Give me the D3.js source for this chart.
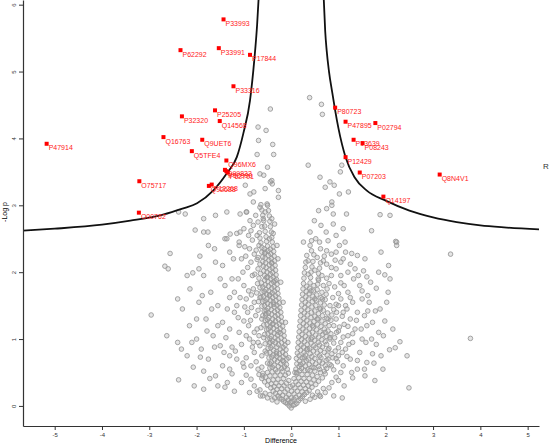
<!DOCTYPE html>
<html>
<head>
<meta charset="utf-8">
<script src="https://cdn.jsdelivr.net/npm/d3@7"></script>
<style>
  body { margin: 0; background: #fff; }
  svg { font-family: "Liberation Sans", Arial, sans-serif; }
</style>
</head>
<body>
<div id="chart"></div>
<script>
// 기본 설정
const width = 550;
const height = 445;

// 축 눈금
const xTicks = [-5, -4, -3, -2, -1, 0, 1, 2, 3, 4, 5];
const yTicks = [0, 1, 2, 3, 4, 5, 6];

// 유의 단백질 (빨간 점)
const sigLabels = ['P33993', 'P62292', 'P33991', 'P17844', 'P33316', 'P25205', 'P32320', 'Q14568',
  'Q16763', 'P47914', 'Q9UET6', 'Q5TFE4', 'Q96MX6', 'Q99832', 'P50990', 'P62701', 'O75717',
  'Q92688', 'P12268', 'O00762',
  'P80723', 'P47895', 'P02794', 'P13639', 'P08243', 'P12429', 'P07203', 'Q8N4V1', 'Q14197'];
const sigX = [-1.43, -2.34, -1.53, -0.87, -1.22, -1.61, -2.31, -1.51,
  -2.70, -5.17, -1.88, -2.10, -1.37, -1.40, -1.37, -1.34, -3.21,
  -1.74, -1.68, -3.22,
  0.93, 1.15, 1.78, 1.32, 1.51, 1.15, 1.45, 3.14, 1.95];
const sigY = [5.78, 5.32, 5.35, 5.25, 4.78, 4.42, 4.33, 4.26,
  4.02, 3.92, 3.98, 3.81, 3.67, 3.53, 3.51, 3.49, 3.36,
  3.29, 3.31, 2.89,
  4.46, 4.25, 4.23, 3.98, 3.93, 3.72, 3.49, 3.46, 3.13];

// 임계 곡선
const thresholdLeft = [[-5.67, 2.62], [-5.0, 2.65], [-4.0, 2.71], [-3.4, 2.77], [-2.71, 2.86],
  [-2.3, 2.95], [-1.99, 3.03], [-1.65, 3.22], [-1.36, 3.48], [-1.15, 3.72], [-1.01, 4.08],
  [-0.87, 4.57], [-0.78, 5.17], [-0.72, 5.7], [-0.69, 6.07]];
const thresholdRight = [[0.69, 6.07], [0.72, 5.6], [0.75, 5.32], [0.8, 5.0], [0.87, 4.68],
  [0.93, 4.42], [1.0, 4.15], [1.15, 3.72], [1.34, 3.42], [1.6, 3.22], [2.0, 3.07], [2.5, 2.92],
  [3.0, 2.82], [3.5, 2.75], [4.0, 2.70], [4.5, 2.67], [5.24, 2.64]];

// 회색 점들 (영역별)
const coreBottom = [[0,-0.03],[-0.04,0.0],[0.04,0.01],[-0.08,0.03],[0.08,0.02],[-0.12,0.05],[0.12,0.04],[-0.02,0.05],[0.02,0.07],[-0.16,0.07],[0.16,0.08],[-0.06,0.09],[0.06,0.1],[-0.2,0.1],[0.2,0.11],
  [-0.24,0.12],[0.24,0.14],[-0.1,0.13],[0.1,0.13],[0,0.12],[-0.28,0.15],[0.28,0.17],[-0.18,0.16],[0.17,0.16],[-0.05,0.17],[0.06,0.18],[-0.33,0.19],[0.33,0.2],[-0.24,0.2],[0.23,0.21],[-0.13,0.21],[0.13,0.22],[0.01,0.22],
  [-0.38,0.22],[0.38,0.23],[-0.3,0.25],[0.3,0.26],[-0.2,0.26],[0.19,0.27],[-0.08,0.25],[0.08,0.27],[-0.43,0.27],[0.44,0.28],[-0.36,0.29],[0.36,0.3],[-0.26,0.3],[0.26,0.31],[-0.15,0.3],[0.15,0.32],[-0.02,0.29],[0.03,0.31],[-0.5,0.31],[0.52,0.32],
  [-0.42,0.33],[0.42,0.34],[-0.32,0.34],[0.32,0.36],[-0.21,0.35],[0.21,0.37],[-0.1,0.34],[0.1,0.36],[-0.56,0.36],[0.58,0.37],[-0.48,0.38],[0.48,0.39],[-0.38,0.39],[0.38,0.41],[-0.28,0.4],[0.27,0.41],[-0.16,0.41],[0.16,0.42],[-0.05,0.38],[0.06,0.41],[-0.62,0.41],[0.66,0.42],
  [-0.54,0.43],[0.55,0.44],[-0.45,0.45],[0.45,0.46],[-0.34,0.45],[0.34,0.47],[-0.23,0.46],[0.23,0.47],[-0.12,0.46],[0.12,0.48],[-0.68,0.47],[0.72,0.48],[-0.6,0.49],[0.62,0.5],[-0.5,0.5],[0.5,0.52],[-0.4,0.51],[0.4,0.53],[-0.29,0.51],[0.29,0.53],[-0.18,0.52],[0.18,0.53],[-0.06,0.49],[0.08,0.5],
  [-0.3,0.06],[0.3,0.07],[-0.4,0.09],[0.4,0.1],[-0.5,0.12],[0.5,0.13],[-0.6,0.15],[0.6,0.16],[-0.35,0.12],[0.45,0.16],[-0.55,0.19],[0.56,0.21],[-0.66,0.24],[0.68,0.26],[-0.45,0.17],
  [-0.78,0.3],[0.8,0.27],[-0.85,0.4],[0.86,0.35],[-0.95,0.46],[0.95,0.43],[-0.72,0.22],[0.72,0.2],[1.0,0.38],[1.08,0.12],[1.12,0.3],[-1.05,0.35],[0.9,0.15],[-0.88,0.2],[1.05,0.5],[-1.25,0.48],[1.3,0.42],[-1.4,0.28],[-1.2,0.22],[-1.72,0.41],[-0.65,0.15],[0.62,0.14]];

const leftArm = [[-0.08,0.55],[-0.2,0.56],[-0.33,0.54],[-0.45,0.57],[-0.1,0.62],[-0.22,0.63],[-0.36,0.61],[-0.5,0.64],
  [-0.09,0.7],[-0.24,0.71],[-0.35,0.69],[-0.47,0.72],[-0.12,0.77],[-0.25,0.78],[-0.38,0.76],[-0.52,0.79],
  [-0.11,0.84],[-0.23,0.85],[-0.37,0.83],[-0.49,0.86],[-0.13,0.91],[-0.27,0.92],[-0.4,0.9],[-0.55,0.93],
  [-0.14,0.98],[-0.28,0.99],[-0.39,0.97],[-0.5,1.0],[-0.15,1.05],[-0.29,1.06],[-0.42,1.04],[-0.56,1.07],
  [-0.16,1.12],[-0.3,1.13],[-0.43,1.11],[-0.52,1.14],[-0.18,1.19],[-0.31,1.2],[-0.44,1.18],[-0.58,1.21],
  [-0.2,1.26],[-0.33,1.27],[-0.45,1.25],[-0.55,1.28],[-0.21,1.33],[-0.34,1.34],[-0.47,1.32],[-0.6,1.35],
  [-0.22,1.4],[-0.35,1.41],[-0.48,1.39],[-0.57,1.42],[-0.24,1.47],[-0.36,1.48],[-0.49,1.46],[-0.62,1.49],
  [-0.25,1.54],[-0.38,1.55],[-0.5,1.53],[-0.6,1.56],[-0.26,1.61],[-0.39,1.62],[-0.51,1.6],[-0.64,1.63],
  [-0.28,1.68],[-0.4,1.69],[-0.52,1.67],[-0.62,1.7],[-0.29,1.75],[-0.41,1.76],[-0.53,1.74],[-0.66,1.77],
  [-0.3,1.82],[-0.42,1.83],[-0.55,1.81],[-0.63,1.84],[-0.31,1.89],[-0.43,1.9],[-0.56,1.88],[-0.68,1.91],
  [-0.32,1.96],[-0.44,1.97],[-0.56,1.95],[-0.65,1.98],[-0.33,2.03],[-0.45,2.04],[-0.58,2.02],[-0.7,2.05],
  [-0.34,2.1],[-0.46,2.11],[-0.59,2.09],[-0.35,2.17],[-0.47,2.18],[-0.6,2.16],[-0.72,2.19],
  [-0.36,2.24],[-0.48,2.25],[-0.6,2.23],[-0.37,2.31],[-0.49,2.32],[-0.62,2.3],[-0.74,2.33],
  [-0.38,2.38],[-0.5,2.39],[-0.62,2.37],[-0.4,2.45],[-0.52,2.46],[-0.64,2.44],
  [-0.41,2.52],[-0.53,2.53],[-0.66,2.51],[-0.42,2.6],[-0.55,2.61],[-0.67,2.59],
  [-0.44,2.68],[-0.56,2.69],[-0.45,2.76],[-0.58,2.77],[-0.7,2.75],[-0.46,2.84],[-0.6,2.85],
  [-0.48,2.92],[-0.62,2.93],[-0.5,3.0],[-0.64,3.01]];

const leftArm2 = [[-0.14,0.585],[-0.27,0.59],[-0.4,0.58],[-0.16,0.66],[-0.29,0.665],[-0.42,0.655],
  [-0.17,0.735],[-0.3,0.74],[-0.41,0.73],[-0.18,0.805],[-0.31,0.81],[-0.45,0.8],
  [-0.17,0.875],[-0.3,0.88],[-0.43,0.87],[-0.2,0.945],[-0.33,0.95],[-0.46,0.94],
  [-0.21,1.015],[-0.34,1.02],[-0.45,1.01],[-0.22,1.085],[-0.36,1.09],[-0.49,1.08],
  [-0.23,1.155],[-0.37,1.16],[-0.48,1.15],[-0.25,1.225],[-0.38,1.23],[-0.51,1.22],
  [-0.27,1.295],[-0.39,1.3],[-0.5,1.29],[-0.28,1.365],[-0.41,1.37],[-0.54,1.36],
  [-0.29,1.435],[-0.42,1.44],[-0.53,1.43],[-0.3,1.505],[-0.43,1.51],[-0.56,1.5],
  [-0.32,1.575],[-0.44,1.58],[-0.55,1.57],[-0.33,1.645],[-0.46,1.65],[-0.58,1.64],
  [-0.35,1.715],[-0.47,1.72],[-0.57,1.71],[-0.36,1.785],[-0.48,1.79],[-0.6,1.78],
  [-0.37,1.855],[-0.49,1.86],[-0.38,1.925],[-0.5,1.93],[-0.39,1.995],[-0.51,2.0],
  [-0.4,2.065],[-0.53,2.07],[-0.41,2.135],[-0.54,2.14],[-0.42,2.205],[-0.55,2.21],
  [-0.43,2.275],[-0.56,2.28],[-0.44,2.345],[-0.57,2.35]];

const leftHalo = [[-0.7,0.55],[-0.85,0.6],[-1.0,0.58],[-0.62,0.75],[-0.78,0.8],[-0.95,0.72],[-1.15,0.7],
  [-0.7,0.95],[-0.88,1.0],[-1.05,0.92],[-1.25,0.88],[-0.72,1.15],[-0.9,1.2],[-1.1,1.1],[-1.3,1.15],
  [-0.75,1.35],[-0.92,1.4],[-1.12,1.32],[-0.78,1.55],[-0.95,1.6],[-1.15,1.5],[-1.35,1.45],
  [-0.8,1.75],[-1.0,1.8],[-1.2,1.7],[-0.82,1.95],[-1.02,2.0],[-1.25,1.9],[-0.85,2.15],[-1.05,2.2],
  [-0.88,2.35],[-1.1,2.4],[-0.9,2.55],[-0.8,2.7],[-1.0,2.65],[-0.75,2.85],[-0.95,2.9],
  [-0.68,1.05],[-0.66,1.62],[-0.7,2.22],[-0.6,0.45],[-0.82,0.88],[-0.86,1.28],[-0.98,1.48],[-0.84,1.66]];

const leftMid = [[-0.62,0.58],[-0.74,0.66],[-0.55,0.82],[-0.66,0.9],[-0.8,0.95],[-0.58,1.02],[-0.64,1.17],
  [-0.78,1.1],[-0.95,1.05],[-0.62,1.3],[-0.7,1.43],[-0.84,1.47],[-0.69,1.56],[-0.73,1.69],[-0.9,1.72],
  [-0.71,1.83],[-0.77,1.97],[-0.92,2.07],[-0.66,2.12],[-0.78,2.27],[-0.96,2.24],[-0.68,2.4],[-0.82,2.48],
  [-0.72,2.55],[-0.62,2.68],[-0.85,2.62],[-0.55,2.9],[-0.38,2.58],[-0.35,2.72],[-0.3,2.4],[-0.28,2.2],
  [-0.22,1.85],[-0.17,1.55],[-0.12,1.25],[-0.07,0.95],[-0.05,0.72],[-0.45,0.63],[-0.31,0.78],[-0.18,0.68],
  [-0.44,0.95],[-0.26,1.1],[-0.4,1.22],[-0.53,1.38],[-0.37,1.52],[-0.45,1.66],[-0.34,1.87],[-0.52,1.92],
  [-0.41,2.14],[-0.55,2.3],[-0.46,2.5],[-1.02,0.64],[-1.18,0.82],[-1.0,1.27],[-1.2,1.4],[-1.08,1.62],
  [-1.3,1.62],[-1.12,1.9],[-0.98,2.38],[-1.22,2.2],[-1.15,2.58],[-1.4,1.8],[-1.55,1.2],[-1.42,0.8],
  [-1.62,0.88],[-1.78,1.12],[-1.68,1.45],[-1.88,1.65],[-1.45,2.1],[-1.62,2.35],[-1.95,2.05],[-2.2,1.95],
  [-2.0,1.3],[-2.1,0.95],[-1.85,0.52],[-1.55,0.3],[-1.3,0.55]];

const leftOuter = [[-1.45,0.6],[-1.6,0.45],[-1.75,0.7],[-1.5,0.9],[-1.9,0.85],[-1.65,1.05],[-2.0,1.0],
  [-1.45,1.25],[-1.8,1.3],[-2.15,1.2],[-1.55,1.5],[-1.95,1.55],[-2.3,1.45],[-1.7,1.7],[-2.14,1.75],
  [-2.4,1.6],[-1.5,1.9],[-1.85,1.95],[-2.08,1.99],[-1.6,2.15],[-1.93,2.24],[-1.75,2.4],[-1.4,2.5],
  [-1.3,2.3],[-2.2,0.75],[-2.4,0.95],[-2.07,0.58],[-2.38,0.39],[-2.32,0.85],[-2.63,1.05],[-2.96,1.36],
  [-2.56,2.28],[-2.67,2.09],[-2.6,2.05],[-2.05,0.3],[-1.85,0.25],[-1.35,0.35],[-1.92,0.73],
  [-2.03,2.63],[-1.76,2.6],[-2.38,2.9],[-1.6,2.85],[-1.3,0.75],[-1.38,1.02]];

const upperPoints = [[-0.97,3.3],[-0.87,3.17],[-0.79,3.2],[-0.55,3.25],[-0.44,3.35],[-0.27,3.22],
  [-0.27,3.12],[-0.8,3.05],[-0.66,2.97],[-0.51,3.02],[-0.94,2.9],[-1.08,2.87],[-1.36,2.9],
  [-0.87,2.77],[-0.59,2.8],[-0.41,2.8],[-1.85,2.8],[-1.85,2.6],[-2.24,2.87],[-1.29,2.57],
  [-1.08,2.6],[-1.36,2.5],[-1.1,2.45],
  [0.39,4.61],[0.64,4.51],[0.66,4.36],[-0.44,4.44],[-0.7,4.17],[-0.53,4.12],[-0.39,3.91],
  [-0.37,3.76],[0.36,3.6],[-0.69,3.97],[-0.72,3.76],[-0.5,3.57],[-0.41,3.37],[-0.4,3.32],
  [-0.66,3.47],[-0.58,3.45],
  [0.61,3.42],[1.04,3.5],[1.07,3.6],[0.72,3.27],[0.82,3.35],[0.91,3.3],[1.02,3.17],[1.21,3.2],
  [0.86,3.05],[0.86,3.0],[0.58,2.92],[0.75,2.95],[0.89,2.87],[1.17,2.87],[1.88,2.86],[2.09,2.85],
  [1.7,2.62],[0.49,2.77],[0.63,2.7],[0.89,2.72],[1.1,2.65],[0.74,2.6],[0.26,2.45],[0.43,2.47],
  [0.6,2.45],[0.78,2.47],[1.14,2.45],[2.23,2.45],[2.23,2.4],[0.75,2.32],[0.43,2.32],[3.37,2.27]];

const rightArm = [[0.1,0.55],[0.22,0.56],[0.35,0.54],[0.48,0.57],[0.6,0.55],[0.75,0.56],[0.9,0.54],
  [0.12,0.63],[0.25,0.64],[0.38,0.62],[0.52,0.63],[0.66,0.64],[0.82,0.62],
  [0.11,0.71],[0.23,0.72],[0.36,0.7],[0.5,0.71],[0.63,0.72],[0.78,0.7],[0.95,0.71],
  [0.13,0.79],[0.27,0.8],[0.4,0.78],[0.55,0.79],[0.7,0.8],[0.86,0.78],
  [0.14,0.87],[0.26,0.88],[0.39,0.86],[0.52,0.87],[0.66,0.88],[0.8,0.86],[1.0,0.87],
  [0.15,0.95],[0.28,0.96],[0.42,0.94],[0.57,0.95],[0.72,0.96],[0.9,0.94],
  [0.16,1.03],[0.3,1.04],[0.44,1.02],[0.58,1.03],[0.74,1.04],[0.92,1.02],[1.1,1.03],
  [0.17,1.11],[0.31,1.12],[0.45,1.1],[0.61,1.11],[0.78,1.12],[0.96,1.1],
  [0.18,1.19],[0.32,1.2],[0.47,1.18],[0.63,1.19],[0.8,1.2],[1.02,1.18],[1.2,1.19],
  [0.19,1.27],[0.33,1.28],[0.48,1.26],[0.65,1.27],[0.84,1.28],
  [0.2,1.35],[0.34,1.36],[0.5,1.34],[0.66,1.35],[0.86,1.36],[1.08,1.34],
  [0.21,1.43],[0.35,1.44],[0.5,1.42],[0.68,1.43],[0.9,1.44],
  [0.22,1.51],[0.36,1.52],[0.52,1.5],[0.7,1.51],[0.95,1.52],[1.15,1.5],
  [0.23,1.59],[0.37,1.6],[0.53,1.58],[0.72,1.59],
  [0.24,1.67],[0.38,1.68],[0.54,1.66],[0.74,1.67],[1.0,1.68],
  [0.25,1.75],[0.39,1.76],[0.55,1.74],[0.76,1.75],
  [0.26,1.83],[0.4,1.84],[0.56,1.82],[0.8,1.83],[1.05,1.84],
  [0.27,1.91],[0.41,1.92],[0.57,1.9],[0.75,1.91],
  [0.28,1.99],[0.42,2.0],[0.58,1.98],[0.3,2.07],[0.44,2.08],[0.6,2.06],[0.85,2.07],
  [0.31,2.15],[0.46,2.16],[0.62,2.14],[0.33,2.25],[0.48,2.26],[0.7,2.24]];

const rightArm2 = [[0.17,0.59],[0.3,0.6],[0.44,0.58],[0.58,0.59],[0.72,0.6],
  [0.18,0.67],[0.32,0.68],[0.45,0.66],[0.6,0.67],[0.74,0.68],
  [0.17,0.75],[0.3,0.76],[0.44,0.74],[0.6,0.75],[0.76,0.76],
  [0.2,0.83],[0.33,0.84],[0.47,0.82],[0.62,0.83],[0.78,0.84],
  [0.21,0.91],[0.34,0.92],[0.48,0.9],[0.6,0.91],[0.75,0.92],
  [0.22,0.99],[0.36,1.0],[0.5,0.98],[0.65,0.99],[0.82,1.0],
  [0.23,1.07],[0.38,1.08],[0.52,1.06],[0.67,1.07],[0.84,1.08],
  [0.25,1.15],[0.39,1.16],[0.54,1.14],[0.7,1.15],
  [0.26,1.23],[0.4,1.24],[0.56,1.22],[0.72,1.23],
  [0.27,1.31],[0.42,1.32],[0.57,1.3],[0.75,1.31],
  [0.28,1.39],[0.43,1.4],[0.58,1.38],[0.77,1.39],
  [0.29,1.47],[0.44,1.48],[0.6,1.46],[0.3,1.55],[0.45,1.56],[0.62,1.54],
  [0.31,1.63],[0.46,1.64],[0.63,1.62],[0.32,1.71],[0.47,1.72],[0.65,1.7],
  [0.33,1.79],[0.48,1.8]];

const rightMid = [[0.85,0.6],[0.98,0.66],[1.18,0.74],[0.88,0.72],[1.08,0.8],[0.93,0.82],[1.22,0.92],
  [1.0,1.12],[1.12,1.22],[0.9,1.2],[1.3,1.08],[0.96,1.4],[1.18,1.45],[0.82,1.5],[1.05,1.6],[0.88,1.62],
  [1.25,1.62],[0.92,1.78],[1.12,1.8],[0.68,1.8],[0.85,1.95],[0.65,1.95],[0.95,2.05],[0.75,2.12],
  [1.05,2.15],[0.55,2.22],[0.85,2.27],[0.62,2.35],[0.52,2.5],[0.95,2.55],[0.4,2.6],[1.02,2.4],
  [1.28,2.28],[1.4,2.25],[1.42,1.95],[1.5,1.72],[1.62,1.65],[1.38,1.28],[1.62,1.42],[1.48,1.15],
  [1.72,1.25],[1.58,0.95],[1.8,0.92],[1.4,0.68],[1.55,0.55],[1.72,0.78],[1.28,0.5],[1.88,1.45],
  [1.95,1.05],[2.15,1.15],[2.05,1.7],[1.9,2.3],[0.12,0.5],[0.2,0.62],[0.28,0.72],[0.35,0.85],
  [0.42,1.0],[0.45,1.2],[0.55,1.3],[0.62,1.45],[0.5,1.6],[0.66,1.6],[0.42,1.72],[0.58,1.88],
  [0.5,2.03],[0.36,1.97],[0.4,2.4],[0.7,0.52],[0.82,1.02],[0.72,1.1],[0.78,1.3]];

const rightOuter = [[1.1,0.6],[1.25,0.7],[1.4,0.55],[1.15,0.85],[1.3,0.95],[1.45,0.8],[1.2,1.05],
  [1.35,1.15],[1.5,1.0],[1.25,1.3],[1.4,1.4],[1.6,1.2],[1.3,1.55],[1.5,1.6],[1.2,1.7],[1.45,1.8],
  [1.6,0.65],[1.55,1.35],[1.7,1.0],[1.65,1.55],[1.05,1.95],[1.2,2.0],[1.35,2.05],[0.95,2.3],
  [1.15,2.3],[1.0,1.5],[0.95,1.3],[1.1,1.4],[1.0,0.75],[1.05,0.95],
  [0.36,2.17],[0.68,2.17],[0.93,2.18],[1.1,2.2],[1.56,2.2],[2.06,2.1],[1.25,2.12],[1.53,2.02],
  [1.85,2.0],[2.09,1.9],[1.32,1.9],[1.6,1.93],[2.21,2.46],[1.98,1.96],[1.8,1.76],[2.02,1.55],
  [1.78,1.42],[1.98,1.27],[2.3,0.96],[2.2,0.87],[2.45,0.75],[2.08,0.84],[1.94,0.55],[1.56,0.45],
  [1.77,0.38],[1.75,0.64],[2.49,0.27],[3.79,1.01],[1.85,1.1],[1.9,0.75],[1.68,1.85]];

const grayPoints = [].concat(coreBottom, leftArm, leftArm2, leftHalo, leftMid, leftOuter,
  upperPoints, rightArm, rightArm2, rightMid, rightOuter);

// 스케일
const x = d3.scaleLinear().domain([-5.67, 5.24]).range([23, 539]);
const y = d3.scaleLinear().domain([-0.3, 6.07]).range([426, 0]);

const svg = d3.select('#chart')
    .append('svg')
    .attr('width', width)
    .attr('height', height);

svg.append('defs').append('clipPath')
    .attr('id', 'plotClip')
    .append('rect')
    .attr('x', 23).attr('y', 0)
    .attr('width', 516).attr('height', 426);

// 회색 점
svg.append('g')
    .selectAll('circle')
    .data(grayPoints)
    .enter()
    .append('circle')
    .attr('cx', d => x(d[0]))
    .attr('cy', d => y(d[1]))
    .attr('r', 2.3)
    .style('fill', 'rgba(150,150,150,0.25)')
    .style('stroke', '#9a9a9a')
    .style('stroke-width', 0.9);

// 임계 곡선
const line = d3.line()
    .x(d => x(d[0]))
    .y(d => y(d[1]))
    .curve(d3.curveMonotoneX);

[thresholdLeft, thresholdRight].forEach(t => {
    svg.append('path')
        .attr('d', line(t))
        .attr('clip-path', 'url(#plotClip)')
        .style('fill', 'none')
        .style('stroke', '#111')
        .style('stroke-width', 1.8);
});

// 빨간 점과 라벨
const sig = sigLabels.map((name, i) => ({ name: name, x: sigX[i], y: sigY[i] }));

const sigGroup = svg.append('g')
    .selectAll('g')
    .data(sig)
    .enter()
    .append('g')
    .attr('transform', d => `translate(${x(d.x)}, ${y(d.y)})`);

sigGroup.append('rect')
    .attr('x', -2).attr('y', -2)
    .attr('width', 4).attr('height', 4)
    .style('fill', '#ff0000');

sigGroup.append('text')
    .text(d => d.name)
    .attr('x', 2)
    .attr('y', 6.5)
    .style('font-size', '7px')
    .style('fill', '#ff1a1a');

// 축
const xAxis = svg.append('g')
    .attr('transform', 'translate(0,426)')
    .call(d3.axisBottom(x).tickValues(xTicks).tickSize(4).tickSizeOuter(0).tickFormat(d => d));
xAxis.selectAll('text').style('font-size', '6px').attr('y', 7).style('fill', '#333');

const yAxis = svg.append('g')
    .attr('transform', 'translate(23,0)')
    .call(d3.axisLeft(y).tickValues(yTicks).tickSize(4).tickSizeOuter(0).tickFormat(d => d));
yAxis.selectAll('text')
    .attr('x', 0).attr('dy', 0)
    .attr('text-anchor', 'middle')
    .attr('transform', 'translate(-7.5,0) rotate(-90)')
    .style('font-size', '6px')
    .style('fill', '#333');

[xAxis, yAxis].forEach(a => {
    a.select('.domain').style('stroke', '#333').style('stroke-width', 1.2);
    a.selectAll('.tick line').style('stroke', '#333');
});

// 축 제목
svg.append('text')
    .attr('x', 281).attr('y', 443)
    .attr('text-anchor', 'middle')
    .style('font-size', '7px')
    .text('Difference');

svg.append('text')
    .attr('transform', 'translate(7,212) rotate(-90)')
    .attr('text-anchor', 'middle')
    .style('font-size', '7px')
    .text('-Log p');

svg.append('text')
    .attr('x', 543).attr('y', 169)
    .style('font-size', '8px')
    .style('fill', '#333')
    .text('R');
</script>
</body>
</html>
